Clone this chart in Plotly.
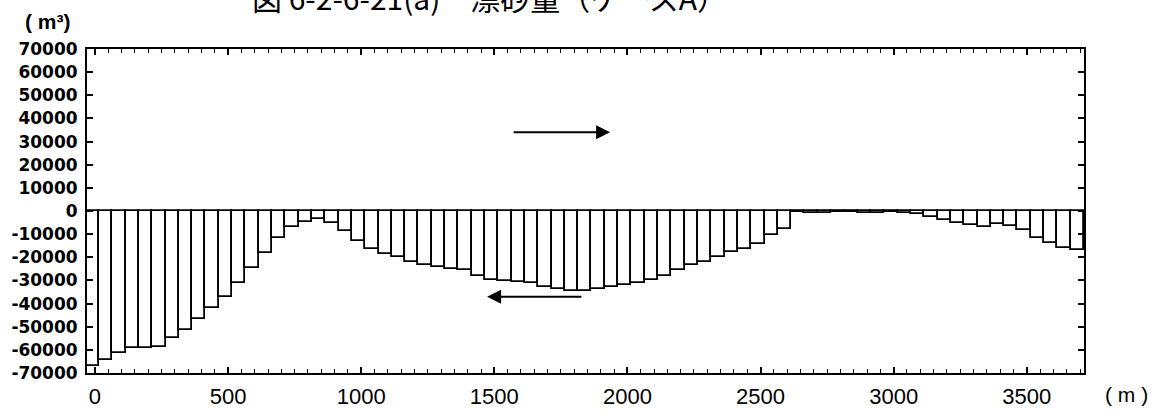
import plotly.graph_objects as go

# Station positions along the shore (m), one bar per 50 m section
station_start = -10
station_step = 50
volume = [
    -67000, -64500, -61200, -59400, -59400, -58700, -54800, -51500, -46800, -42100,
    -37100, -31300, -24800, -18000, -11800, -7100, -4900, -3600, -5300, -8700,
    -12800, -16600, -18600, -20000, -21900, -23400, -24400, -25000, -25500, -28100,
    -29600, -30300, -30600, -31000, -33000, -33900, -34500, -34600, -33900, -33000,
    -32000, -31000, -29900, -28100, -25500, -23400, -21900, -20000, -17600, -16600,
    -14300, -10400, -7900, -600, -800, -700, -500, -600, -900, -700,
    -400, -700, -1200, -2500, -3900, -5300, -6200, -6900, -5800, -6500,
    -8400, -11500, -13700, -15900, -17000,
]
stations = [station_start + station_step * i for i in range(len(volume))]

x_ticks = [0, 500, 1000, 1500, 2000, 2500, 3000, 3500]
y_ticks = [70000, 60000, 50000, 40000, 30000, 20000, 10000, 0,
           -10000, -20000, -30000, -40000, -50000, -60000, -70000]
y_tick_text = [str(v) for v in y_ticks]

title_text = "図 6-2-6-21(a)　漂砂量（ケースA）"

fig = go.Figure()
fig.add_trace(go.Bar(
    x=stations,
    y=volume,
    width=station_step,
    marker=dict(color="white", line=dict(color="black", width=1.8)),
    showlegend=False,
))

fig.update_layout(
    width=1154,
    height=415,
    margin=dict(l=87, r=70, t=49, b=42, autoexpand=False),
    paper_bgcolor="white",
    plot_bgcolor="white",
    bargap=0,
    xaxis=dict(
        range=[-30, 3715],
        tickvals=x_ticks,
        ticktext=[str(v) for v in x_ticks],
        ticks="inside",
        ticklen=6,
        tickwidth=1.5,
        tickcolor="black",
        minor=dict(dtick=50, tick0=0, ticks="inside", ticklen=4, tickwidth=1.2, tickcolor="black"),
        showline=True,
        linecolor="black",
        linewidth=2,
        mirror="allticks",
        showgrid=False,
        zeroline=False,
        automargin=False,
        tickfont=dict(family="Liberation Sans", size=22, color="black"),
        ticklabelstandoff=3,
    ),
    yaxis=dict(
        range=[-70000, 70000],
        tickvals=y_ticks,
        ticktext=y_tick_text,
        ticks="inside",
        ticklen=6,
        tickwidth=1.5,
        tickcolor="black",
        showline=True,
        linecolor="black",
        linewidth=2,
        mirror="allticks",
        showgrid=False,
        zeroline=True,
        zerolinecolor="black",
        zerolinewidth=1.5,
        automargin=False,
        tickfont=dict(family="DejaVu Sans", size=17, color="black", weight="bold"),
        ticklabelstandoff=4,
    ),
    font=dict(family="Liberation Sans", color="black"),
)

annotations = [
    dict(text=title_text, xref="paper", yref="paper", x=0.404, y=1.162,
         xanchor="center", yanchor="middle", showarrow=False,
         font=dict(family="Noto Sans CJK JP", size=30, color="black")),
    dict(text="( m³)", xref="paper", yref="paper", x=-0.039, y=1.085,
         xanchor="center", yanchor="middle", showarrow=False,
         font=dict(family="Liberation Sans", size=21, color="black", weight="bold")),
    dict(text="( m )", xref="paper", yref="paper", x=1.043, y=-0.066,
         xanchor="center", yanchor="middle", showarrow=False,
         font=dict(family="Liberation Sans", size=21, color="black")),
    # transport direction arrows
    dict(x=1935, y=34000, ax=1567, ay=34000, xref="x", yref="y", axref="x", ayref="y",
         text="", showarrow=True, arrowhead=2, arrowsize=1.4, arrowwidth=2, arrowcolor="black"),
    dict(x=1473, y=-37100, ax=1833, ay=-37100, xref="x", yref="y", axref="x", ayref="y",
         text="", showarrow=True, arrowhead=2, arrowsize=1.4, arrowwidth=2, arrowcolor="black"),
]
fig.update_layout(annotations=annotations)

fig.write_html("out.html")
